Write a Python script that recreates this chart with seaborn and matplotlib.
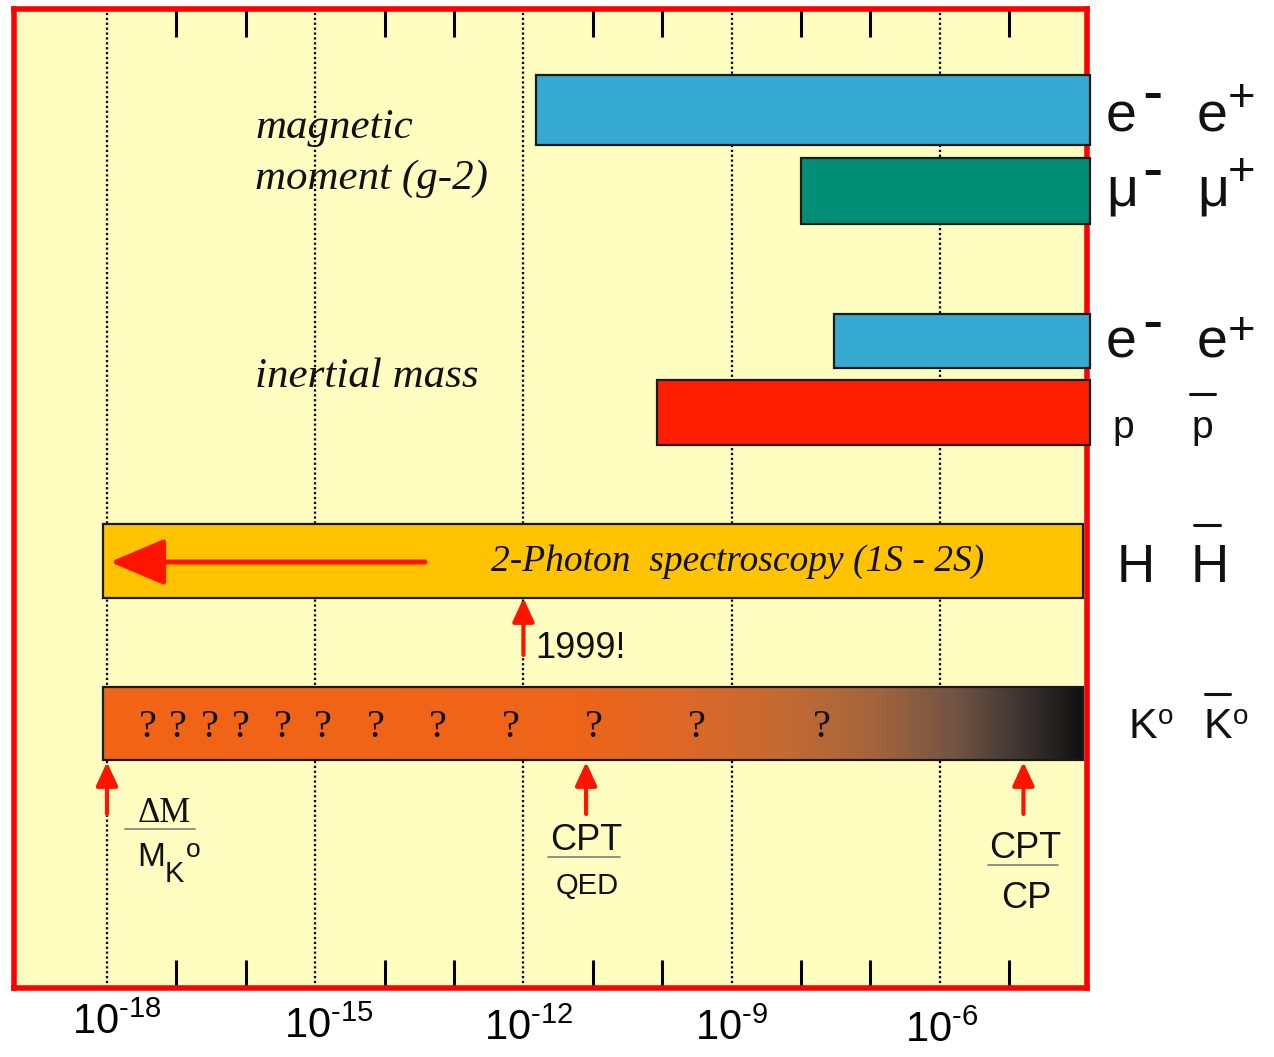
import numpy as np
import matplotlib
matplotlib.use("Agg")
import matplotlib.pyplot as plt
import matplotlib.transforms as mtransforms
import seaborn as sns
from matplotlib.colors import LinearSegmentedColormap
from matplotlib.ticker import FixedLocator, FixedFormatter, NullFormatter

# ---------------- data ----------------
rows = ["e- e+ (g-2)", "mu- mu+ (g-2)", "e- e+ (mass)", "p pbar (mass)",
        "H Hbar (1S-2S)", "K0 K0bar"]
limit_low = [1.5e-12, 1.0e-8, 3.0e-8, 8.5e-11, 8.7e-19, 8.7e-19]
limit_high = [1.46e-4, 1.46e-4, 1.46e-4, 1.46e-4, 1.15e-4, 1.15e-4]
major_ticks = [1e-18, 1e-15, 1e-12, 1e-9, 1e-6]
major_tick_labels = [r"$\mathregular{10}^{\text{-18}}$", r"$\mathregular{10}^{\text{-15}}$",
                     r"$\mathregular{10}^{\text{-12}}$", r"$\mathregular{10}^{\text{-9}}$",
                     r"$\mathregular{10}^{\text{-6}}$"]
minor_ticks = [1e-17, 1e-16, 1e-14, 1e-13, 1e-11, 1e-10, 1e-8, 1e-7, 1e-5]
h_1999 = 1.0e-12                       # 1999 H 1S-2S result
kaon_marks = [1.0e-18, 8.0e-12, 1.6e-5]  # dM/M_K, CPT/QED, CPT/CP

# ---------------- layout / style ----------------
W, H = 1274, 1057
AX_L, AX_R, AX_T, AX_B = 14, 1087, 9, 988
XLOG_MIN, XLOG_MAX = -19.34, -3.88
label_shift_px = [(10, -3), (14, 1), (5, 3), (0, 3), (2, 5)]


def X(px):
    return 10 ** (XLOG_MIN + (px - AX_L) * (XLOG_MAX - XLOG_MIN) / (AX_R - AX_L))


bar_y = [110, 191, 341, 412.5, 561, 723.5]
bar_h = [70, 66, 54, 65, 74, 73]
bar_colors = ["#35A9CF", "#008E77", "#35A9CF", "#FF1E00", "#FFC300", "none"]
SANS = "Liberation Sans"
SERIF = "Liberation Serif"
RED = "#FF1400"

sns.set_theme(style="white")
plt.rcParams["font.family"] = [SANS, "DejaVu Sans"]
plt.rcParams["mathtext.fontset"] = "custom"
plt.rcParams["mathtext.rm"] = SANS
plt.rcParams["mathtext.it"] = SANS + ":italic"
plt.rcParams["mathtext.bf"] = SANS + ":bold"

fig = plt.figure(figsize=(W / 100, H / 100), dpi=100)
fig.patch.set_facecolor("white")
ax = fig.add_axes([AX_L / W, 1 - AX_B / H, (AX_R - AX_L) / W, (AX_B - AX_T) / H])
ax.set_facecolor("#FFFDC0")
ax.set_xscale("log")
ax.set_xlim(10 ** XLOG_MIN, 10 ** XLOG_MAX)
ax.set_ylim(AX_B, AX_T)
ax.set_yticks([])

for s in ax.spines.values():
    s.set_color("#FF0000")
    s.set_linewidth(4)

ax.xaxis.set_major_locator(FixedLocator(major_ticks))
ax.xaxis.set_major_formatter(FixedFormatter(major_tick_labels))
ax.xaxis.set_minor_locator(FixedLocator(minor_ticks))
ax.xaxis.set_minor_formatter(NullFormatter())
ax.tick_params(axis="x", which="major", length=0, labelsize=30, pad=13,
               labelcolor="black")
ax.tick_params(axis="x", which="minor", direction="in", length=20, width=2.2,
               color="black", top=True, bottom=True)
ax.grid(True, axis="x", which="major", color="black", linestyle=(0, (1, 1.2)),
        linewidth=1.6)
ax.set_axisbelow(True)
for lbl, (dx, dy) in zip(ax.get_xticklabels(), label_shift_px):
    lbl.set_transform(lbl.get_transform() + mtransforms.ScaledTranslation(
        dx / 100, -dy / 100, fig.dpi_scale_trans))

# ---------------- bars ----------------
for i in range(4):
    ax.barh(bar_y[i], limit_high[i] - limit_low[i], left=limit_low[i],
            height=bar_h[i], color=bar_colors[i], edgecolor="#1a1a1a",
            linewidth=1.6, zorder=3, clip_on=False)

ax.barh(bar_y[4], limit_high[4] - limit_low[4], left=limit_low[4],
        height=bar_h[4], color=bar_colors[4], edgecolor="#1a1a1a",
        linewidth=1.6, zorder=3)

# kaon bar with orange -> black gradient
kcmap = LinearSegmentedColormap.from_list(
    "kaon",
    [(0.0, "#F26416"), (0.48, "#EE6418"), (0.60, "#DC6728"), (0.70, "#C26A33"),
     (0.79, "#A3643D"), (0.87, "#735444"), (0.94, "#3C3431"), (1.0, "#111111")],
    N=1024)
xs = np.logspace(np.log10(limit_low[5]), np.log10(limit_high[5]), 801)
ys = [bar_y[5] - bar_h[5] / 2, bar_y[5] + bar_h[5] / 2]
ax.pcolormesh(xs, ys, np.linspace(0, 1, 800)[None, :], cmap=kcmap,
              shading="flat", zorder=2.9, edgecolors="face", linewidth=0.3,
              antialiased=False)
ax.barh(bar_y[5], limit_high[5] - limit_low[5], left=limit_low[5],
        height=bar_h[5], color="none", edgecolor="#1a1a1a", linewidth=1.6,
        zorder=3)

# ---------------- annotations ----------------
ax.text(X(255), 138, "magnetic", family=SERIF, style="italic", fontsize=31,
        ha="left", va="baseline", color="#111111", zorder=4)
ax.text(X(255), 189, "moment (g-2)", family=SERIF, style="italic", fontsize=31,
        ha="left", va="baseline", color="#111111", zorder=4)
ax.text(X(255), 387, "inertial mass", family=SERIF, style="italic", fontsize=31,
        ha="left", va="baseline", color="#111111", zorder=4)

ax.text(X(738), 571, "2-Photon  spectroscopy (1S - 2S)", family=SERIF,
        style="italic", fontsize=27, ha="center", va="baseline",
        color="#111111", zorder=5)

ax.annotate("", xy=(X(110), 562), xytext=(X(425), 562),
            arrowprops=dict(arrowstyle="-|>,head_length=1.7,head_width=0.72",
                            color=RED, lw=3.6, mutation_scale=20,
                            shrinkA=0, shrinkB=0), zorder=5)

ax.annotate("", xy=(h_1999, 598), xytext=(h_1999, 655),
            arrowprops=dict(arrowstyle="-|>,head_length=1.3,head_width=0.6",
                            color=RED, lw=3, mutation_scale=11,
                            shrinkA=0, shrinkB=0), zorder=5)
ax.text(X(535), 658, "1999!", fontsize=26, ha="left", va="baseline",
        color="#111111", zorder=5)

for px in [148, 178, 210, 241, 283, 323, 376, 438, 511, 594, 697, 822]:
    ax.text(X(px), 737, "?", family=SERIF, fontsize=29, ha="center",
            va="baseline", color="#111111", zorder=5)

for xm in kaon_marks:
    ax.annotate("", xy=(xm, 762), xytext=(xm, 814),
                arrowprops=dict(arrowstyle="-|>,head_length=1.3,head_width=0.6",
                                color=RED, lw=3, mutation_scale=11,
                                shrinkA=0, shrinkB=0), zorder=5)

# dM / M_K0
ax.text(X(164), 822, "\u0394M", family=SERIF, fontsize=25, ha="center",
        va="baseline", color="#111111")
ax.plot([X(125), X(195)], [829, 829], color="#888888", lw=1.3)
ax.text(X(137), 866, "M", fontsize=24, ha="left", va="baseline", color="#111111")
ax.text(X(165), 882, "K", fontsize=21, ha="left", va="baseline", color="#111111")
ax.text(X(186), 857, "o", fontsize=19, ha="left", va="baseline", color="#111111")

# CPT / QED
ax.text(X(586), 850, "CPT", fontsize=26, ha="center", va="baseline",
        color="#111111")
ax.plot([X(548), X(620)], [857, 857], color="#888888", lw=1.3)
ax.text(X(587), 894, "QED", fontsize=21, ha="center", va="baseline",
        color="#111111")

# CPT / CP
ax.text(X(1025), 858, "CPT", fontsize=26, ha="center", va="baseline",
        color="#111111")
ax.plot([X(988), X(1058)], [865, 865], color="#888888", lw=1.3)
ax.text(X(1026), 908, "CP", fontsize=26, ha="center", va="baseline",
        color="#111111")


# ---------------- particle labels (right side) ----------------
def lab(txt, px, base, size):
    ax.text(X(px), base, txt, fontsize=size, ha="left", va="baseline",
            color="#111111", clip_on=False)


def bar_over(x0, x1, y):
    ax.plot([X(x0), X(x1)], [y, y], color="#111111", lw=2.2, clip_on=False)


# e- e+ (g-2)
lab("e", 1106, 132, 40)
lab("-", 1142, 112, 44)
lab("e", 1197, 132, 40)
lab("+", 1228, 111, 34)
# mu- mu+
lab("\u03bc", 1106, 205, 40)
lab("-", 1142, 189, 44)
lab("\u03bc", 1197, 205, 40)
lab("+", 1228, 185, 34)
# e- e+ (mass)
lab("e", 1106, 358, 40)
lab("-", 1142, 341, 44)
lab("e", 1197, 358, 40)
lab("+", 1228, 344, 34)
# p pbar
lab("p", 1112, 438, 28)
lab("p", 1191, 438, 28)
bar_over(1190, 1215, 394)
# H Hbar
lab("H", 1117, 582, 38)
lab("H", 1191, 582, 38)
bar_over(1194, 1220, 525)
# K0 K0bar
lab("K", 1128, 738, 31)
lab("o", 1158, 724, 20)
lab("K", 1203, 738, 31)
lab("o", 1233, 724, 20)
bar_over(1205, 1230, 694)

fig.savefig("out.png", dpi=100, facecolor="white")
